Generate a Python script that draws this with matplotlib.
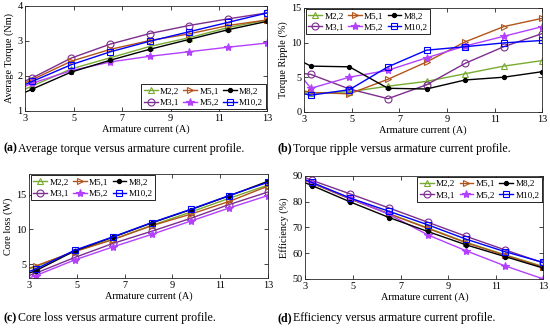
import matplotlib as mpl
mpl.use('Agg')
import matplotlib.pyplot as plt

# armature current (first point lies left of the visible range)
current = [1.66, 3.28, 4.90, 6.52, 8.14, 9.76, 11.38, 13.00]

labels = ["M2,2", "M3,1", "M5,1", "M5,2", "M8,2", "M10,2"]

# average torque (Nm)
torque = {
    "M2,2":  [1.22, 1.71, 2.20, 2.52, 2.84, 3.09, 3.38, 3.60],
    "M3,1":  [1.45, 1.94, 2.51, 2.91, 3.21, 3.44, 3.63, 3.80],
    "M5,1":  [1.40, 1.89, 2.42, 2.76, 3.01, 3.20, 3.44, 3.60],
    "M5,2":  [1.30, 1.79, 2.15, 2.40, 2.56, 2.69, 2.82, 2.94],
    "M8,2":  [1.12, 1.62, 2.11, 2.45, 2.76, 3.04, 3.32, 3.56],
    "M10,2": [1.35, 1.84, 2.32, 2.69, 2.99, 3.26, 3.53, 3.80],
}

# torque ripple (%)
ripple = {
    "M2,2":  [3.1, 2.7, 2.9, 3.7, 4.4, 5.5, 6.6, 7.4],
    "M3,1":  [6.1, 5.4, 3.3, 1.9, 3.9, 7.0, 9.4, 11.3],
    "M5,1":  [4.0, 2.8, 2.6, 4.7, 7.2, 10.1, 12.3, 13.5],
    "M5,2":  [10.5, 3.4, 5.0, 6.0, 7.8, 9.5, 10.9, 12.3],
    "M8,2":  [9.5, 6.6, 6.5, 3.4, 3.3, 4.6, 5.0, 5.8],
    "M10,2": [3.6, 2.4, 3.2, 6.5, 8.9, 9.4, 9.95, 10.3],
}

# core loss (W)
core = {
    "M2,2":  [2.7, 4.65, 6.85, 8.6, 10.6, 12.5, 14.5, 16.4],
    "M3,1":  [1.8, 3.7, 5.95, 8.0, 9.75, 11.6, 13.6, 15.4],
    "M5,1":  [2.8, 4.75, 6.8, 8.55, 10.55, 12.2, 14.05, 16.25],
    "M5,2":  [1.4, 3.35, 5.6, 7.5, 9.3, 11.2, 13.1, 14.9],
    "M8,2":  [2.1, 4.05, 6.9, 8.9, 10.95, 12.85, 14.85, 16.95],
    "M10,2": [2.3, 4.3, 7.0, 8.95, 11.0, 12.9, 14.9, 16.8],
}

# efficiency (%)
eff = {
    "M2,2":  [93.1, 87.2, 81.0, 75.3, 69.8, 64.2, 59.4, 54.8],
    "M3,1":  [94.2, 88.2, 82.9, 77.5, 72.0, 66.5, 61.3, 56.2],
    "M5,1":  [93.0, 87.1, 80.9, 75.2, 69.6, 64.0, 59.2, 54.6],
    "M5,2":  [93.2, 87.3, 81.2, 75.0, 67.1, 60.9, 55.1, 50.0],
    "M8,2":  [92.2, 86.2, 79.8, 73.8, 68.4, 63.2, 58.7, 54.2],
    "M10,2": [93.4, 87.4, 81.3, 76.2, 71.0, 65.4, 60.6, 56.4],
}

styles = {
    "M2,2":  dict(color=(0.47, 0.67, 0.19), marker='^', mfc='none', ms=5),
    "M3,1":  dict(color=(0.49, 0.18, 0.56), marker='o', mfc='none', ms=5),
    "M5,1":  dict(color=(0.70, 0.33, 0.10), marker='>', mfc='none', ms=5),
    "M5,2":  dict(color=(0.70, 0.25, 1.00), marker='*', ms=6),
    "M8,2":  dict(color='black', marker='o', ms=3),
    "M10,2": dict(color=(0.0, 0.0, 1.0), marker='s', mfc='none', ms=4.5),
}

plt.rcParams['font.family'] = ['Liberation Serif', 'DejaVu Serif']

fig = plt.figure(figsize=(5.5, 3.29), dpi=100)

panels = [
    # data, ylabel, ylim, yticks, axes rect, legend loc
    (torque, "Average Torque (Nm)", (1, 4), [1, 2, 3, 4], [0.046, 0.663, 0.440, 0.319], "lower right"),
    (ripple, "Torque Ripple (%)", (0, 15), [0, 5, 10, 15], [0.553, 0.660, 0.433, 0.316], "upper left"),
    (core, "Core loss (W)", (3, 18), [5, 10, 15], [0.053, 0.155, 0.434, 0.316], "upper left"),
    (eff, "Efficiency (%)", (50, 90), [50, 60, 70, 80, 90], [0.555, 0.152, 0.433, 0.314], "upper right"),
]

for data, ylabel, ylim, yticks, rect, loc in panels:
    ax = fig.add_axes(rect)
    for name in labels:
        st = styles[name]
        ax.plot(current, data[name], label=name, lw=1.0, color=st['color'],
                marker=st['marker'], markersize=st['ms'],
                markerfacecolor=st.get('mfc', st['color']), markeredgewidth=0.8)
    ax.set_xlim(3, 13)
    ax.set_ylim(*ylim)
    ax.set_xticks([3, 5, 7, 9, 11, 13])
    ax.set_yticks(yticks)
    ax.tick_params(direction='in', length=3, width=0.6, labelsize=7.4, pad=2,
                   top=True, right=True, colors='#262626', labelcolor='black')
    for sp in ax.spines.values():
        sp.set_linewidth(0.6)
        sp.set_color('#262626')
    ax.set_xlabel("Armature current (A)", fontsize=7.4, labelpad=1)
    ax.set_ylabel(ylabel, fontsize=7.4, labelpad=2)
    leg = ax.legend(loc=loc, ncol=3, fontsize=6.6, frameon=True, fancybox=False,
                    edgecolor='black', framealpha=1, handlelength=1.5,
                    handletextpad=0.25, columnspacing=0.45, labelspacing=0.3,
                    borderpad=0.3, borderaxespad=0.15)
    leg.get_frame().set_linewidth(0.6)

captions = [
    (0.006, 0.548, "(a)", "Average torque versus armature current profile."),
    (0.505, 0.548, "(b)", "Torque ripple versus armature current profile."),
    (0.006, 0.033, "(c)", "Core loss versus armature current profile."),
    (0.505, 0.033, "(d)", "Efficiency versus armature current profile."),
]
for x, y, tag, text in captions:
    fig.text(x, y, tag, fontsize=8.6, fontweight='bold', va='center')
    fig.text(x + 0.027, y, text, fontsize=8.6, va='center')

fig.savefig("out.png", dpi=100)
